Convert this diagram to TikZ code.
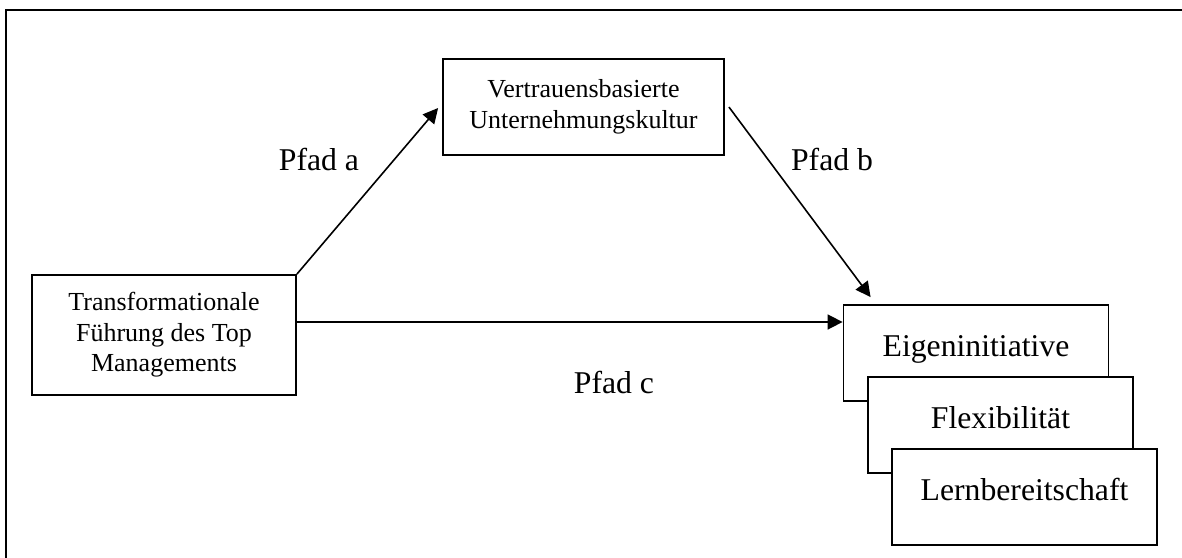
\documentclass[tikz,border=0pt]{standalone}
\usepackage{fontspec}
\setmainfont{Liberation Serif}
\usetikzlibrary{arrows.meta}
\begin{document}
\begin{tikzpicture}[x=1pt,y=-1pt,
  box/.style={draw, line width=1.8pt, fill=white, inner sep=0pt},
  smalltext/.style={font=\fontsize{26}{30.5}\selectfont, align=center},
  bigtext/.style={font=\fontsize{31.7}{36}\selectfont},
  outcome/.style={box, bigtext, minimum width=265pt, text height=51pt, text depth=45pt},
  arr/.style={line width=1.6pt, -{Triangle[length=15pt,width=15pt]}},
  lbl/.style={bigtext, anchor=base, inner sep=0pt}]
% canvas and frame
\clip (0,0) rectangle (1182,557);
\fill[white] (0,0) rectangle (1182,557);
\draw[line width=2.6pt] (1200,10) -| (6,580);

% predictor and mediator
\node[box, smalltext, minimum width=264pt, minimum height=120pt] (lead) at (164,335)
  {Transformationale\\Führung des Top\\Managements};
\node[box, smalltext, minimum width=281pt, minimum height=96pt] (cult) at (583.5,107)
  {Vertrauensbasierte\\Unternehmungskultur};

% stacked outcome boxes
\node[outcome] (eig) at (976,353) {Eigeninitiative};
\node[outcome] (flex) at (1000.5,425) {Flexibilität};
\node[outcome] (lern) at (1024.5,497) {Lernbereitschaft};

% path labels
\node[lbl] (pa) at (319,170) {Pfad a};
\node[lbl] (pb) at (832,170) {Pfad b};
\node[lbl] (pc) at (614,393) {Pfad c};

% paths
\draw[arr] (lead.north east) -- ([xshift=-4pt,yshift=-1pt]cult.west);
\draw[arr] ([xshift=4pt]cult.east) -- ([xshift=28pt,yshift=7pt]eig.north west);
\draw[arr] ([yshift=13pt]lead.east) coordinate (c0) -- (c0 -| eig.west);
\end{tikzpicture}
\end{document}
